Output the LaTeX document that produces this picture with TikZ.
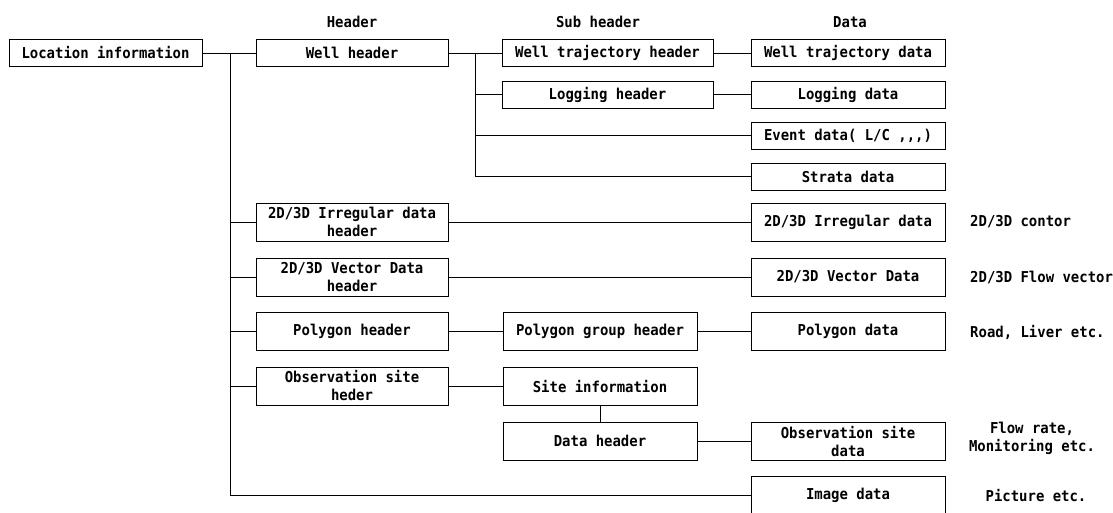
\documentclass[tikz,border=0pt]{standalone}
\usepackage{fontspec}
\setmonofont{DejaVu Sans Mono}
\newfontfamily\diagfont{DejaVu Sans Mono Bold}[FakeStretch=0.93]
\begin{document}
\begin{tikzpicture}[x=1pt,y=-1pt,
  txt/.style={font=\diagfont\fontsize{15}{18}\selectfont, inner sep=0pt, align=center},
  box/.style={txt, draw, line width=1pt},
  bw/.style={box, minimum width=192pt},
  sh/.style={minimum height=27pt},
  th/.style={minimum height=38pt},
  conn/.style={line width=0.9pt}]
\useasboundingbox (0,0) rectangle (1113,512);
% column titles
\node[txt] (hHead) at (352,22) {Header};
\node[txt] (hSub) at (598,22) {Sub header};
\node[txt] (hData) at (850,22) {Data};
% nodes
\node[box, sh, minimum width=193pt] (loc) at (105.5,53) {Location information};
\node[bw, sh] (well) at (352,53) {Well header};
\node[box, sh, minimum width=211pt] (wth) at (607.5,53) {Well trajectory header};
\node[box, sh, minimum width=194pt] (wtd) at (848,53) {Well trajectory data};
\node[box, sh, minimum width=211pt] (lh) at (607.5,94.5) {Logging header};
\node[box, sh, minimum width=194pt] (ld) at (848,94.5) {Logging data};
\node[box, sh, minimum width=194pt] (ev) at (848,135.5) {Event data( L/C ,,,)};
\node[box, sh, minimum width=194pt] (st) at (848,176.5) {Strata data};
\node[bw, th] (irh) at (352,222) {2D/3D Irregular data\\header};
\node[box, th, minimum width=194pt] (ird) at (848,222) {2D/3D Irregular data};
\node[bw, th] (vh) at (352,277) {2D/3D Vector Data\\header};
\node[box, th, minimum width=194pt] (vd) at (848,277) {2D/3D Vector Data};
\node[bw, th] (ph) at (352,331) {Polygon header};
\node[box, th, minimum width=194pt] (pgh) at (600,331) {Polygon group header};
\node[box, th, minimum width=194pt] (pd) at (848,331) {Polygon data};
\node[bw, th] (osh) at (352,386) {Observation site\\heder};
\node[box, th, minimum width=194pt] (si) at (600,386) {Site information};
\node[box, th, minimum width=194pt] (dh) at (600,441) {Data header};
\node[box, th, minimum width=194pt] (osd) at (848,441) {Observation site\\data};
\node[box, th, minimum width=194pt] (img) at (848,495) {Image data};
% side notes
\node[txt, anchor=west] (nIrr) at (970,222) {2D/3D contor};
\node[txt, anchor=west] (nVec) at (970,277) {2D/3D Flow vector};
\node[txt, anchor=west] (nPoly) at (970,332) {Road, Liver etc.};
\node[txt] (nObs) at (1032,438) {Flow rate,\\Monitoring etc.};
\node[txt] (nImg) at (1036,495) {Picture etc.};
% trunks
\coordinate (t1) at (230,0);
\coordinate (t2) at (475,0);
\draw[conn] (loc.east) -- (well.west);
\draw[conn] (t1 |- loc.east) -- (t1 |- img.west) -- (img.west);
\foreach \n in {irh,vh,ph,osh}{\draw[conn] (t1 |- \n.west) -- (\n.west);}
\draw[conn] (well.east) -- (wth.west);
\draw[conn] (t2 |- well.east) -- (t2 |- st.west) -- (st.west);
\draw[conn] (t2 |- lh.west) -- (lh.west);
\draw[conn] (t2 |- ev.west) -- (ev.west);
% direct links
\draw[conn] (wth.east) -- (wtd.west);
\draw[conn] (lh.east) -- (ld.west);
\draw[conn] (irh.east) -- (ird.west);
\draw[conn] (vh.east) -- (vd.west);
\draw[conn] (ph.east) -- (pgh.west);
\draw[conn] (pgh.east) -- (pd.west);
\draw[conn] (osh.east) -- (si.west);
\draw[conn] (si.south) -- (dh.north);
\draw[conn] (dh.east) -- (osd.west);
\end{tikzpicture}
\end{document}
